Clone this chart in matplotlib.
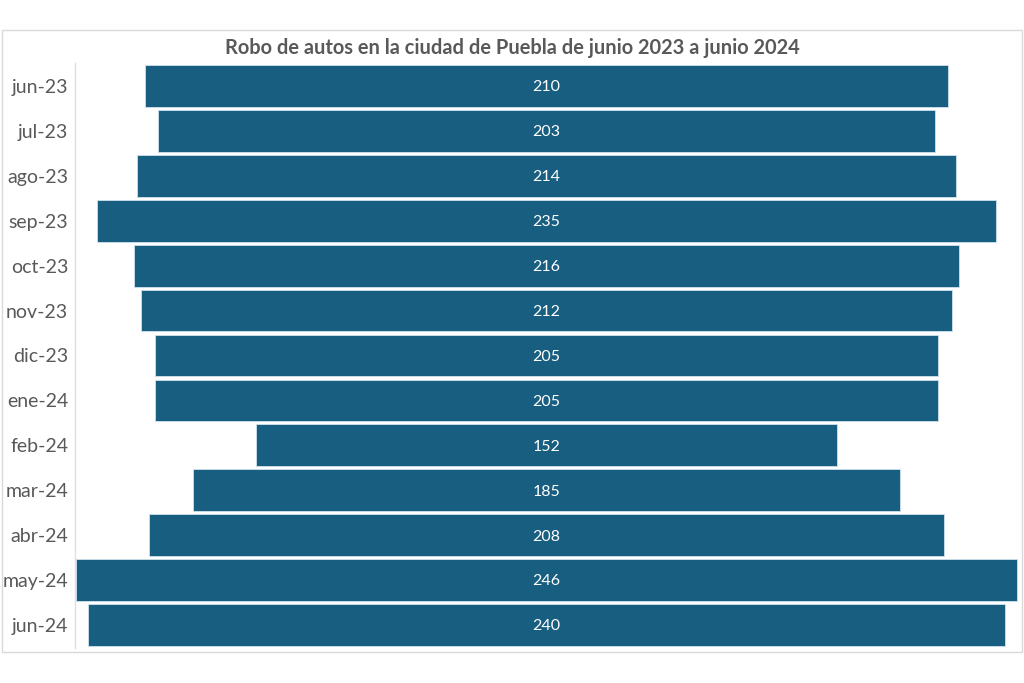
import matplotlib
matplotlib.use("Agg")
import matplotlib.pyplot as plt
from matplotlib.patches import Rectangle

months = ["jun-23", "jul-23", "ago-23", "sep-23", "oct-23", "nov-23", "dic-23",
          "ene-24", "feb-24", "mar-24", "abr-24", "may-24", "jun-24"]
values = [210, 203, 214, 235, 216, 212, 205, 205, 152, 185, 208, 246, 240]
title = "Robo de autos en la ciudad de Puebla de junio 2023 a junio 2024"

bar_color = "#185E80"
text_gray = "#595959"

plt.rcParams['font.family'] = ['Lato', 'DejaVu Sans']

fig = plt.figure(figsize=(10.24, 6.83), dpi=100)
fig.patches.append(Rectangle((2/1024, 1-652/683), 1020/1024, 622/683,
                             transform=fig.transFigure, fill=False,
                             edgecolor="#d9d9d9", linewidth=1))
ax = fig.add_axes([75/1024, 1-647.5/683, 943/1024, 584/683])

ypos = list(range(len(months)))
lefts = [-v/2 for v in values]
ax.barh(ypos, values, left=lefts, height=0.93, color=bar_color,
        edgecolor="#cfe3ee", linewidth=0.6)
for y, v in zip(ypos, values):
    ax.text(0, y + 0.03, str(v), ha="center", va="center", color="white", fontsize=11.5)

mx = max(values) / 2
ax.set_xlim(-mx - 0.3, mx + 0.3)
ax.set_ylim(len(months) - 0.5, -0.5)
ax.set_yticks(ypos)
ax.set_yticklabels(months, fontsize=14, color=text_gray)
ax.tick_params(axis="y", length=0, pad=5)
ax.set_xticks([])
for s in ["top", "right", "bottom"]:
    ax.spines[s].set_visible(False)
ax.spines["left"].set_color("#e0e0e0")
ax.spines["left"].set_linewidth(1)

fig.text(512/1024, 1-47.5/683, title, ha="center", va="center",
         fontsize=14.4, fontweight="bold", color=text_gray)

fig.savefig("out.png", dpi=100, facecolor="white")
